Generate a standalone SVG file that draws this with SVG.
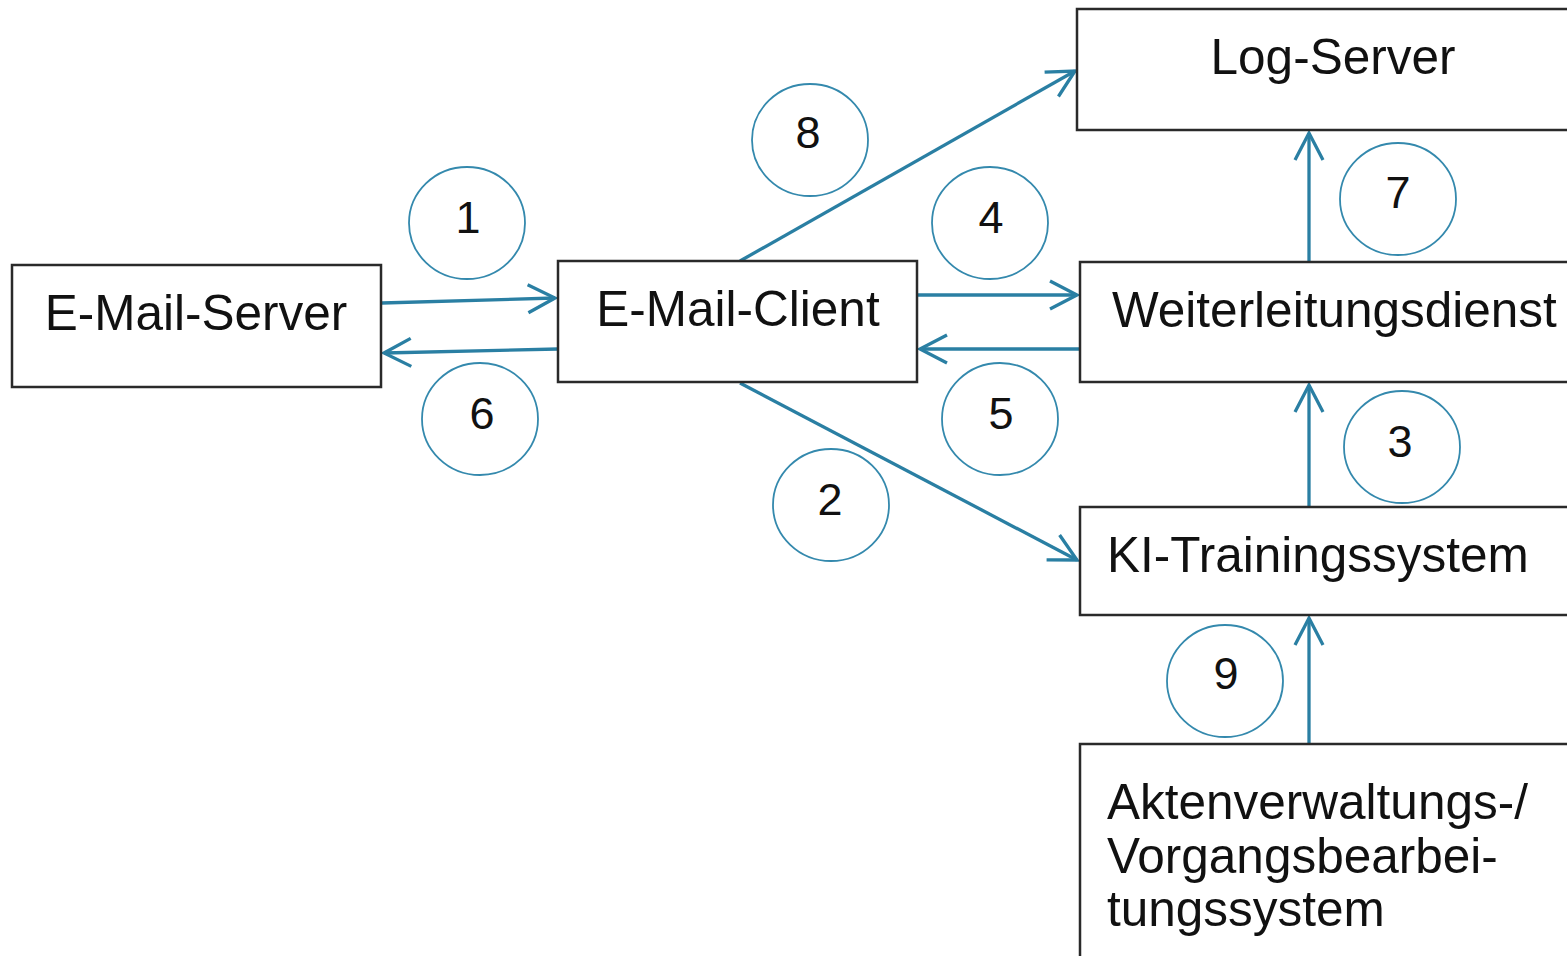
<svg xmlns="http://www.w3.org/2000/svg" width="1567" height="956" viewBox="0 0 1567 956">
<style>
.box{fill:#fff;stroke:#2a2a2a;stroke-width:2.5}
.lbl{font-family:"Liberation Sans",Arial,sans-serif;font-size:49.5px;fill:#111}
.num{font-family:"Liberation Sans",Arial,sans-serif;font-size:45px;fill:#111;text-anchor:middle}
.con{stroke:#2a7fa3;stroke-width:3.3;fill:none}
.ring{fill:none;stroke:#3489ad;stroke-width:1.8}
</style>
<defs>
<marker id="arr" markerUnits="userSpaceOnUse" markerWidth="40" markerHeight="40" viewBox="-32 -20 36 40" refX="0" refY="0" orient="auto">
<path d="M-27,-14 L0,0 L-27,14" fill="none" stroke="#2a7fa3" stroke-width="3.3"/>
</marker>
</defs>
<rect width="1567" height="956" fill="#fff"/>
<g id="connectors">
<line class="con" x1="382" y1="303" x2="555" y2="298" marker-end="url(#arr)"/>
<line class="con" x1="558" y1="349" x2="384" y2="353" marker-end="url(#arr)"/>
<line class="con" x1="917" y1="295" x2="1077" y2="295" marker-end="url(#arr)"/>
<line class="con" x1="1080" y1="349" x2="920" y2="349" marker-end="url(#arr)"/>
<line class="con" x1="740" y1="261" x2="1075" y2="71" marker-end="url(#arr)"/>
<line class="con" x1="740" y1="383" x2="1077" y2="560" marker-end="url(#arr)"/>
<line class="con" x1="1309" y1="262" x2="1309" y2="133" marker-end="url(#arr)"/>
<line class="con" x1="1309" y1="507" x2="1309" y2="385" marker-end="url(#arr)"/>
<line class="con" x1="1309" y1="744" x2="1309" y2="618" marker-end="url(#arr)"/>
</g>
<g id="labels">
<g id="n1"><ellipse class="ring" cx="467" cy="223" rx="58" ry="56"/><text class="num" x="468" y="233">1</text></g>
<g id="n2"><ellipse class="ring" cx="831" cy="505" rx="58" ry="56"/><text class="num" x="830" y="515">2</text></g>
<g id="n3"><ellipse class="ring" cx="1402" cy="447" rx="58" ry="56"/><text class="num" x="1400" y="457">3</text></g>
<g id="n4"><ellipse class="ring" cx="990" cy="223" rx="58" ry="56"/><text class="num" x="991" y="233">4</text></g>
<g id="n5"><ellipse class="ring" cx="1000" cy="419" rx="58" ry="56"/><text class="num" x="1001" y="429">5</text></g>
<g id="n6"><ellipse class="ring" cx="480" cy="419" rx="58" ry="56"/><text class="num" x="482" y="429">6</text></g>
<g id="n7"><ellipse class="ring" cx="1398" cy="199" rx="58" ry="56"/><text class="num" x="1398" y="208">7</text></g>
<g id="n8"><ellipse class="ring" cx="810" cy="140" rx="58" ry="56"/><text class="num" x="808" y="148">8</text></g>
<g id="n9"><ellipse class="ring" cx="1225" cy="681" rx="58" ry="56"/><text class="num" x="1226" y="689">9</text></g>
</g>
<g id="email-server"><rect class="box" x="12" y="265" width="369" height="122"/><text class="lbl" x="196" y="330" text-anchor="middle">E-Mail-Server</text></g>
<g id="email-client"><rect class="box" x="558" y="261" width="359" height="121"/><text class="lbl" x="738" y="326" text-anchor="middle">E-Mail-Client</text></g>
<g id="log-server"><rect class="box" x="1077" y="9" width="520" height="121"/><text class="lbl" x="1333" y="74" text-anchor="middle">Log-Server</text></g>
<g id="weiterleitung"><rect class="box" x="1080" y="262" width="520" height="120"/><text class="lbl" x="1112" y="327">Weiterleitungsdienst</text></g>
<g id="ki-training"><rect class="box" x="1080" y="507" width="520" height="108"/><text class="lbl" x="1107" y="572">KI-Trainingssystem</text></g>
<g id="akten"><rect class="box" x="1080" y="744" width="520" height="240"/><text class="lbl" x="1107" y="819">Aktenverwaltungs-/</text><text class="lbl" x="1107" y="873">Vorgangsbearbei-</text><text class="lbl" x="1107" y="926">tungssystem</text></g>
</svg>
